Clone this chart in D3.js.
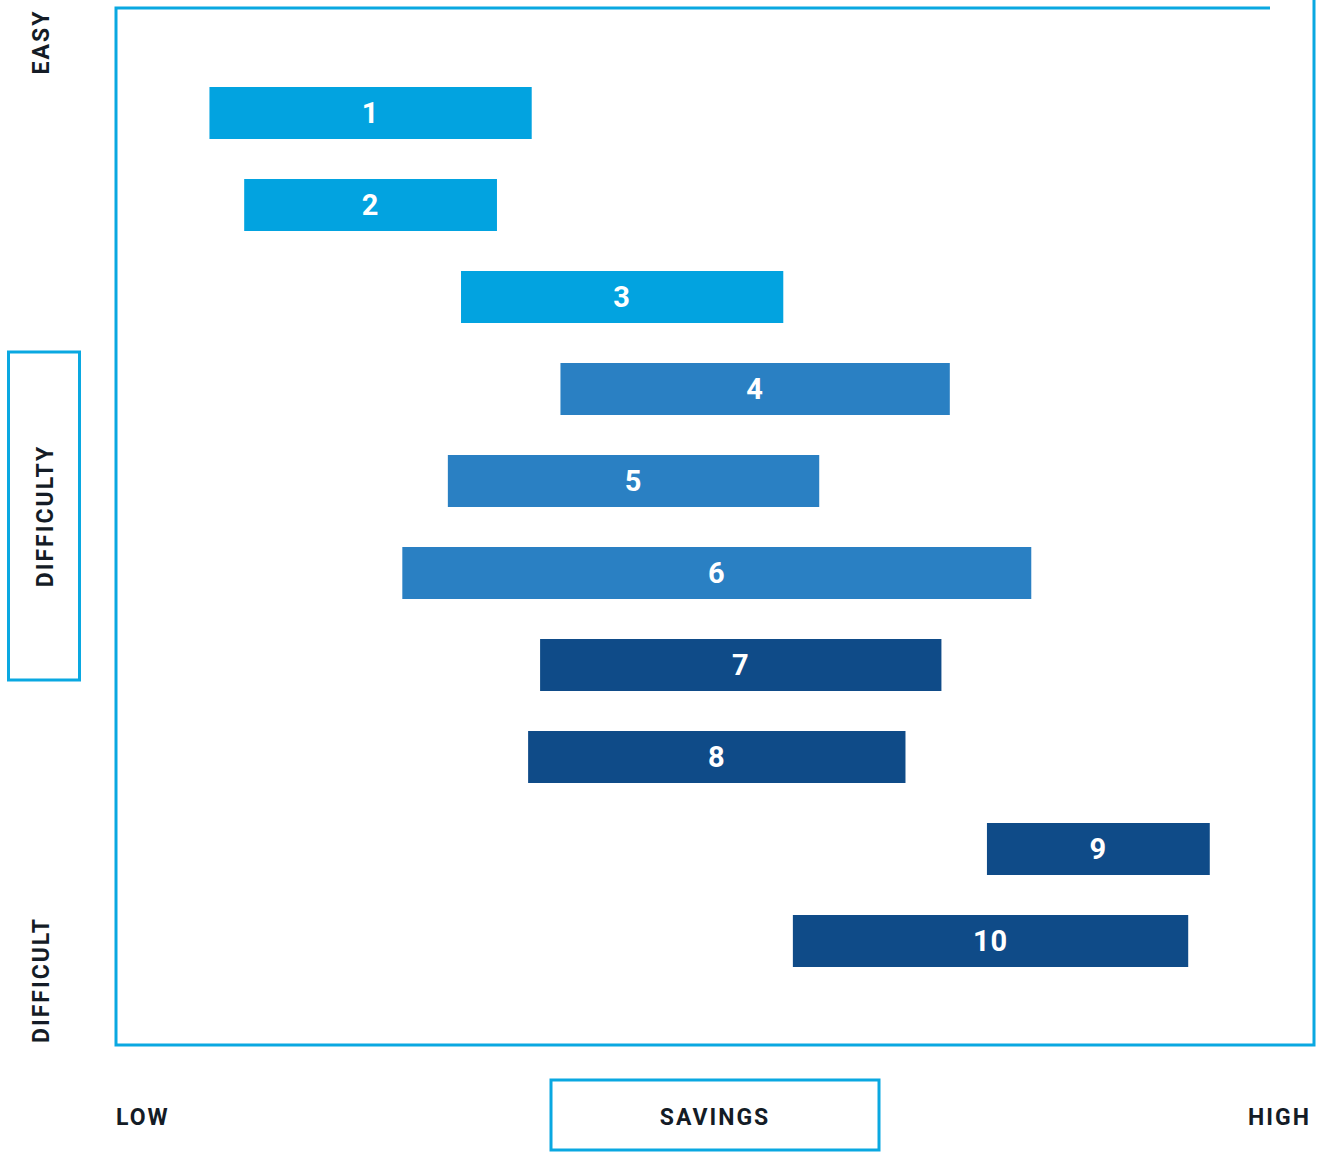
<!DOCTYPE html>
<html>
<head>
<meta charset="utf-8">
<script src="https://cdn.jsdelivr.net/npm/d3@7"></script>
<style>
  html, body { margin: 0; padding: 0; background: #fff; }
  svg { display: block; }
  text { font-family: Roboto, "Open Sans", sans-serif; font-weight: 700; }
</style>
</head>
<body>
<svg id="chart" width="1322" height="1152"></svg>
<script>
// initiatives, ranked from easy (top) to difficult (bottom)
const initiatives = ['1', '2', '3', '4', '5', '6', '7', '8', '9', '10'];
// savings range of each initiative, 0..100 scale
const savingsLow = [7.8, 10.7, 28.8, 37.1, 27.7, 23.9, 35.4, 34.4, 72.7, 56.5];
const savingsHigh = [34.7, 31.8, 55.7, 69.6, 58.7, 76.4, 68.9, 65.9, 91.3, 89.5];
// difficulty group for colouring
const groups = ['easy', 'easy', 'easy', 'mid', 'mid', 'mid', 'hard', 'hard', 'hard', 'hard'];

const groupColor = d3.scaleOrdinal()
  .domain(['easy', 'mid', 'hard'])
  .range(['#02a3e0', '#2a80c3', '#0f4b88']);

const frameColor = '#0aa8e1';
const inkColor = '#141c26';

const svg = d3.select('#chart');

const x = d3.scaleLinear().domain([0, 100]).range([116, 1314]);
const y = d3.scaleBand()
  .domain(initiatives)
  .range([67, 987])
  .paddingInner(0.4348)
  .paddingOuter(0.2174);

const rows = initiatives.map((id, i) => ({
  id,
  lo: savingsLow[i],
  hi: savingsHigh[i],
  group: groups[i]
}));

// frame (top edge stops short, right edge runs to the top)
svg.append('path')
  .attr('d', `M1270,8 H${x(0)} V1045 H${x(100)} V0`)
  .attr('fill', 'none')
  .attr('stroke', frameColor)
  .attr('stroke-width', 3);

const bar = svg.append('g').selectAll('g')
  .data(rows)
  .join('g');

bar.append('rect')
  .attr('x', d => x(d.lo))
  .attr('y', d => y(d.id))
  .attr('width', d => x(d.hi) - x(d.lo))
  .attr('height', y.bandwidth())
  .attr('fill', d => groupColor(d.group));

bar.append('text')
  .attr('x', d => (x(d.lo) + x(d.hi)) / 2)
  .attr('y', d => y(d.id) + y.bandwidth() / 2)
  .attr('text-anchor', 'middle')
  .attr('dy', '0.36em')
  .attr('fill', '#fff')
  .attr('font-size', 29)
  .attr('letter-spacing', 1)
  .text(d => d.id);

// axis titles
const label = (txt, px, py, rot, anchor) => {
  svg.append('text')
    .attr('transform', `translate(${px},${py}) rotate(${rot})`)
    .attr('text-anchor', anchor)
    .attr('dy', '0.36em')
    .attr('fill', inkColor)
    .attr('font-size', 23)
    .attr('letter-spacing', 2)
    .text(txt);
};

svg.append('rect')
  .attr('x', 8.5).attr('y', 352)
  .attr('width', 71).attr('height', 328)
  .attr('fill', 'none')
  .attr('stroke', frameColor)
  .attr('stroke-width', 3);

svg.append('rect')
  .attr('x', 551).attr('y', 1080)
  .attr('width', 328).attr('height', 70)
  .attr('fill', 'none')
  .attr('stroke', frameColor)
  .attr('stroke-width', 3);

label('EASY', 41, 42, -90, 'middle');
label('DIFFICULTY', 45, 516, -90, 'middle');
label('DIFFICULT', 41, 980, -90, 'middle');
label('LOW', 116, 1117, 0, 'start');
label('SAVINGS', 715, 1117, 0, 'middle');
label('HIGH', 1311, 1117, 0, 'end');
</script>
</body>
</html>
